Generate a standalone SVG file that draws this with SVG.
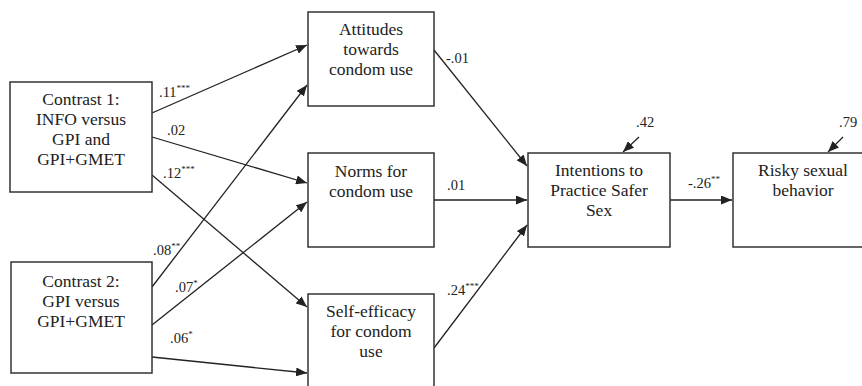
<svg xmlns="http://www.w3.org/2000/svg" width="862" height="386" viewBox="0 0 862 386">
<style>
.box{fill:#fff;stroke:#333;stroke-width:1.5}
.t{font-family:"Liberation Serif","DejaVu Serif",serif;font-size:17.5px;fill:#222;text-anchor:middle}
.l{font-family:"Liberation Serif","DejaVu Serif",serif;font-size:14.5px;fill:#222}
.s{font-size:9px}
.c{fill:none;stroke:#222;stroke-width:1.3;marker-end:url(#ah)}
</style>
<defs>
<marker id="ah" markerUnits="userSpaceOnUse" markerWidth="11" markerHeight="9" refX="11" refY="4.5" orient="auto">
<path d="M0,0 L11,4.5 L0,9 z" fill="#222"/>
</marker>
</defs>
<rect width="862" height="386" fill="#fff"/>
<g id="connectors">
<path class="c" d="M152,113 L307,45"/>
<path class="c" d="M152,137 L307,183"/>
<path class="c" d="M152,175 L307,307"/>
<path class="c" d="M152,287 L307,85"/>
<path class="c" d="M152,325 L307,202"/>
<path class="c" d="M152,357 L307,373"/>
<path class="c" d="M434,50 L527,166"/>
<path class="c" d="M434,200 L527,200"/>
<path class="c" d="M434,348 L527,225"/>
<path class="c" d="M670,200 L732,200"/>
<path class="c" d="M639,137 L623,152"/>
<path class="c" d="M843,137 L828,152"/>
</g>
<g id="labels">
<text class="l" x="159" y="97">.11<tspan class="s" dy="-6">***</tspan></text>
<text class="l" x="167" y="135">.02</text>
<text class="l" x="163" y="178">.12<tspan class="s" dy="-6">***</tspan></text>
<text class="l" x="153" y="255">.08<tspan class="s" dy="-6">**</tspan></text>
<text class="l" x="175" y="292">.07<tspan class="s" dy="-6">*</tspan></text>
<text class="l" x="170" y="343">.06<tspan class="s" dy="-6">*</tspan></text>
<text class="l" x="446" y="63">-.01</text>
<text class="l" x="447" y="190">.01</text>
<text class="l" x="447" y="295">.24<tspan class="s" dy="-6">***</tspan></text>
<text class="l" x="688" y="188">-.26<tspan class="s" dy="-6">**</tspan></text>
<text class="l" x="636" y="127">.42</text>
<text class="l" x="839" y="127">.79</text>
</g>
<g id="contrast1">
<rect class="box" x="10" y="82" width="142" height="110"/>
<text class="t" x="81" y="105">Contrast 1:</text>
<text class="t" x="81" y="125">INFO versus</text>
<text class="t" x="81" y="145">GPI and</text>
<text class="t" x="81" y="165">GPI+GMET</text>
</g>
<g id="contrast2">
<rect class="box" x="11" y="262" width="141" height="111"/>
<text class="t" x="81" y="287">Contrast 2:</text>
<text class="t" x="81" y="307">GPI versus</text>
<text class="t" x="81" y="327">GPI+GMET</text>
</g>
<g id="attitudes">
<rect class="box" x="308" y="12" width="126" height="94"/>
<text class="t" x="371" y="35">Attitudes</text>
<text class="t" x="371" y="55">towards</text>
<text class="t" x="371" y="75">condom use</text>
</g>
<g id="norms">
<rect class="box" x="308" y="153" width="126" height="94"/>
<text class="t" x="371" y="177">Norms for</text>
<text class="t" x="371" y="197">condom use</text>
</g>
<g id="selfefficacy">
<rect class="box" x="308" y="294" width="126" height="100"/>
<text class="t" x="371" y="317">Self-efficacy</text>
<text class="t" x="371" y="337">for condom</text>
<text class="t" x="371" y="357">use</text>
</g>
<g id="intentions">
<rect class="box" x="528" y="153" width="142" height="94"/>
<text class="t" x="599" y="176">Intentions to</text>
<text class="t" x="599" y="196">Practice Safer</text>
<text class="t" x="599" y="216">Sex</text>
</g>
<g id="risky">
<rect class="box" x="733" y="153" width="140" height="94"/>
<text class="t" x="803" y="176">Risky sexual</text>
<text class="t" x="803" y="196">behavior</text>
</g>
</svg>
